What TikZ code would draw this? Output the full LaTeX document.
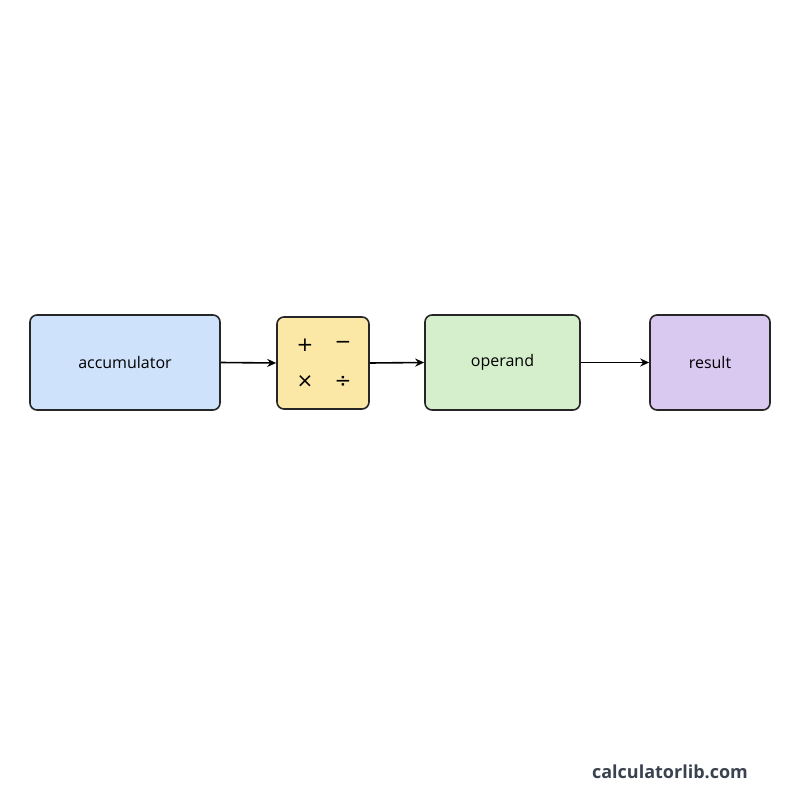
\documentclass[tikz,border=0pt]{standalone}
\usepackage{fontspec}
\setmainfont{Open Sans}
\newfontfamily\symfont{DejaVu Sans}
\usetikzlibrary{arrows.meta}
\definecolor{cblue}{HTML}{CFE2FB}
\definecolor{cyellow}{HTML}{FBE7A6}
\definecolor{cgreen}{HTML}{D5EECB}
\definecolor{cpurple}{HTML}{D9C8F0}
\definecolor{wm}{HTML}{3A4250}
\tikzset{
  box/.style={draw=black!85, line width=1.6pt, rounded corners=7pt, font=\fontsize{16}{18}\selectfont},
  conn/.style={-{Stealth[length=9pt,width=8pt]}, line width=1.6pt},
  opsym/.style={font=\symfont\fontsize{20}{22}\selectfont}
}
\begin{document}
\begin{tikzpicture}[x=1pt,y=-1pt]
\useasboundingbox (0,0) rectangle (800,800);
\node[box, fill=cblue, minimum width=190pt, minimum height=95pt] (acc) at (125,362.5) {accumulator};
\node[box, fill=cyellow, minimum width=92pt, minimum height=92pt] (op) at (323,363) {};
\node[opsym] (plus) at (305,345) {+};
\node[opsym] (minus) at (343,345) {−};
\node[opsym] (times) at (305,382) {×};
\node[opsym] (div) at (343,382) {÷};
\node[box, fill=cgreen, minimum width=155pt, minimum height=95pt] (opd) at (502.5,362.5) {operand};
\node[box, fill=cpurple, minimum width=120pt, minimum height=95pt] (res) at (710,362.5) {result};
\draw[conn] (acc.east) -- (op.west);
\draw[conn] (op.east) -- (opd.west);
\draw[conn] (opd.east) -- (res.west);
\node[font=\bfseries\fontsize{18}{20}\selectfont, text=wm] (wmk) at (670,772) {calculatorlib.com};
\end{tikzpicture}
\end{document}
